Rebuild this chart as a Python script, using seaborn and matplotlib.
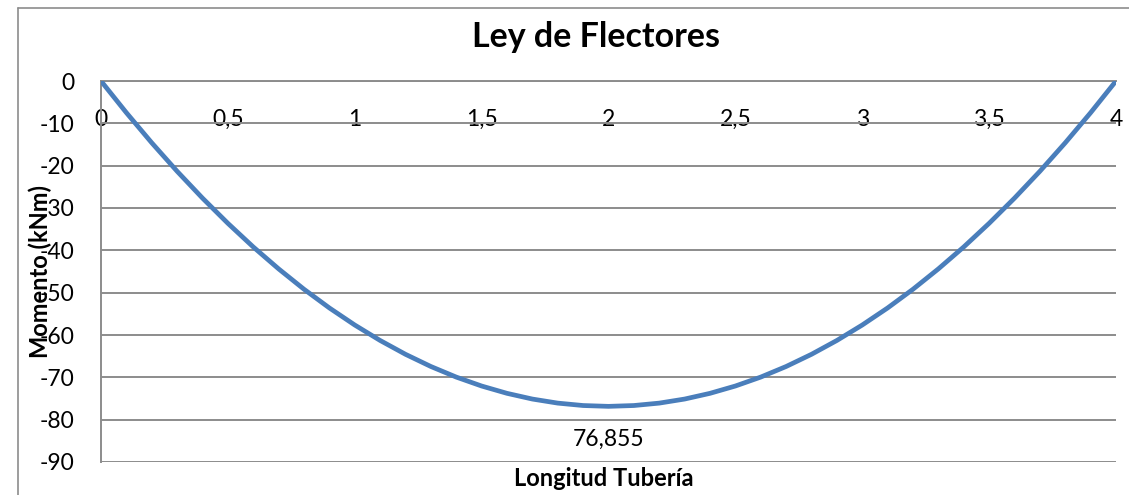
import matplotlib
matplotlib.use("Agg")
import matplotlib.pyplot as plt
import seaborn as sns
import pandas as pd
from matplotlib.lines import Line2D
from matplotlib.ticker import FixedLocator, FixedFormatter

# Bending moment along the pipe (kNm)
longitud = [0.0, 0.1, 0.2, 0.3, 0.4, 0.5, 0.6, 0.7, 0.8, 0.9, 1.0,
            1.1, 1.2, 1.3, 1.4, 1.5, 1.6, 1.7, 1.8, 1.9, 2.0,
            2.1, 2.2, 2.3, 2.4, 2.5, 2.6, 2.7, 2.8, 2.9, 3.0,
            3.1, 3.2, 3.3, 3.4, 3.5, 3.6, 3.7, 3.8, 3.9, 4.0]
momento = [0.0, -7.49, -14.60, -21.33, -27.67, -33.62, -39.20, -44.38, -49.19, -53.61, -57.64,
           -61.29, -64.56, -67.44, -69.94, -72.05, -73.78, -75.13, -76.09, -76.66, -76.855,
           -76.66, -76.09, -75.13, -73.78, -72.05, -69.94, -67.44, -64.56, -61.29, -57.64,
           -53.61, -49.19, -44.38, -39.20, -33.62, -27.67, -21.33, -14.60, -7.49, 0.0]

x_ticks = [0, 0.5, 1, 1.5, 2, 2.5, 3, 3.5, 4]
x_tick_labels = ["0", "0,5", "1", "1,5", "2", "2,5", "3", "3,5", "4"]
y_ticks = [0, -10, -20, -30, -40, -50, -60, -70, -80, -90]
y_tick_labels = ["0", "-10", "-20", "-30", "-40", "-50", "-60", "-70", "-80", "-90"]

sns.set_theme(style="white")
plt.rcParams["font.family"] = ["Lato", "DejaVu Sans"]
plt.rcParams["axes.unicode_minus"] = False

W, H = 1129, 495
fig = plt.figure(figsize=(W / 100, H / 100), dpi=100)
ax = fig.add_axes([101 / W, 1 - 462 / H, (1116 - 101) / W, (462 - 81) / H])

df = pd.DataFrame({"Longitud": longitud, "Momento": momento})
line_color = "#4a7ebb"
grid_color = "#8c8c8c"
sns.lineplot(data=df, x="Longitud", y="Momento", ax=ax, color=line_color,
             linewidth=3.4, sort=False, zorder=3)

ax.set_xlim(0, 4)
ax.set_ylim(-90, 0)

# Horizontal gridlines
ax.yaxis.set_major_locator(FixedLocator(y_ticks))
ax.yaxis.set_major_formatter(FixedFormatter(y_tick_labels))
ax.grid(axis="y", color=grid_color, linewidth=1.4)
ax.grid(axis="x", visible=False)
ax.set_axisbelow(True)

# Horizontal axis crosses at zero
ax.xaxis.set_major_locator(FixedLocator(x_ticks))
ax.xaxis.set_major_formatter(FixedFormatter(x_tick_labels))
ax.spines["bottom"].set_position(("data", 0))
for side in ("top", "right"):
    ax.spines[side].set_visible(False)
for side in ("bottom", "left"):
    ax.spines[side].set_color(grid_color)
    ax.spines[side].set_linewidth(1.4)

ax.tick_params(axis="x", length=0, pad=20, labelsize=16.5, labelcolor="black")
ax.tick_params(axis="y", length=0, pad=19, labelsize=16.5, labelcolor="black")

ax.set_xlabel("Longitud Tubería", fontsize=17, fontweight="bold", color="black")
ax.xaxis.set_label_coords(0.495, -0.042)
ax.xaxis.label.set_va("center")
ax.set_ylabel("Momento (kNm)", fontsize=17, fontweight="bold", color="black")
ax.yaxis.set_label_coords(-0.060, 0.5)
ax.yaxis.label.set_va("center")

ax.set_title("Ley de Flectores", fontsize=24.5, fontweight="bold", color="black",
             y=(462 - 47) / 381, va="baseline", pad=0)
ax.title.set_x(0.488)

# Value label under the minimum
i_min = momento.index(min(momento))
ax.annotate(f"{abs(momento[i_min]):.3f}".replace(".", ","),
            xy=(longitud[i_min], momento[i_min]), xytext=(0, -24),
            textcoords="offset points", ha="center", va="center",
            fontsize=16.5, color="black")

# Chart area border
fig.add_artist(Line2D([17.5 / W, 17.5 / W], [0, 1 - 7.5 / H], transform=fig.transFigure,
                      color=grid_color, linewidth=1.2))
fig.add_artist(Line2D([17.5 / W, 1], [1 - 7.5 / H, 1 - 7.5 / H], transform=fig.transFigure,
                      color=grid_color, linewidth=1.2))

fig.savefig("out.png", dpi=100)
